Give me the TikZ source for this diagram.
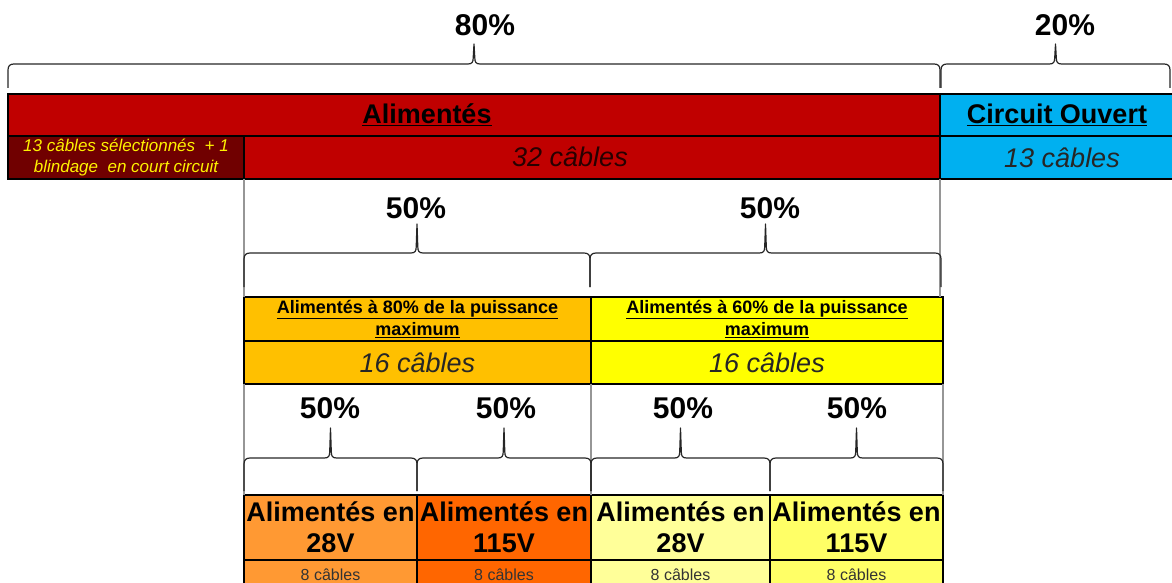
\documentclass[tikz,border=0pt]{standalone}
\usepackage{fontspec}
\setmainfont{Liberation Sans}
\usetikzlibrary{positioning}
\definecolor{alimred}{RGB}{192,0,0}
\definecolor{selred}{RGB}{112,0,0}
\definecolor{opencol}{RGB}{0,176,240}
\definecolor{p80col}{RGB}{255,192,0}
\definecolor{p60col}{RGB}{255,255,0}
\definecolor{v28orange}{RGB}{255,153,51}
\definecolor{v115orange}{RGB}{255,102,0}
\definecolor{v28yellow}{RGB}{255,255,153}
\definecolor{v115yellow}{RGB}{255,255,102}
\definecolor{guidecol}{RGB}{150,150,150}
\definecolor{txtdark}{RGB}{40,0,0}

\begin{document}
\begin{tikzpicture}[
  x=1pt, y=-1pt,
  %% table cell — black frame, text centred
  cell/.style={
    draw=black, line width=1.2pt,
    anchor=north west, inner sep=0pt, outer sep=0pt,
    align=center
  },
  %% bold underlined titles
  hd/.style={font=\fontsize{27}{30}\selectfont\bfseries},
  %% italic cable counts
  cnt/.style={font=\fontsize{27}{30}\selectfont\itshape, text=txtdark},
  %% small bold titles of the power rows
  sub/.style={font=\fontsize{18}{22.5}\selectfont\bfseries},
  %% bottom voltage cells
  volt/.style={font=\fontsize{27}{31}\selectfont\bfseries, minimum height=65},
  %% small cable counts at the bottom
  few/.style={font=\fontsize{16}{18}\selectfont, text=black!80, minimum height=30},
  %% percentage labels over the braces
  pct/.style={font=\fontsize{30}{32}\selectfont\bfseries, inner sep=0pt},
  %% curly braces
  brc/.style={draw=black!85, line width=1.2pt, line join=round},
  %% grey cell borders seen between the rows
  guide/.style={draw=guidecol, line width=1.4pt},
]

\useasboundingbox (0,0) rectangle (1172,583);

%%── First row: powered / open circuit ────────────────────────────────────────
\node[cell, fill=alimred, minimum width=932, minimum height=42] (alim)
  at (8,94) {};
\node[hd] (alimlbl) at (427,115) {\underline{Alimentés}};
\node[cell, hd, fill=opencol, minimum width=234, minimum height=42,
      right=0pt of alim] (circ)
  {\underline{Circuit Ouvert}};

\node[cell, fill=selred, minimum width=236, minimum height=43,
      font=\fontsize{17}{21}\selectfont\itshape, text=yellow] (sel)
  at (alim.south west)
  {13 câbles sélectionnés\ \ + 1\\blindage\ \ en court circuit};
\node[cell, fill=alimred, minimum width=696, minimum height=43,
      right=0pt of sel] (c32) {};
\node[cnt] (c32lbl) at (570,157) {32 câbles};
\node[cell, cnt, text=black!85, fill=opencol, minimum width=234,
      minimum height=43, right=0pt of c32] (c13)
  {\hspace*{10pt}13 câbles};

%%── Second row: power level ──────────────────────────────────────────────────
\node[cell, sub, fill=p80col, minimum width=347, minimum height=44] (p80)
  at (244,297)
  {\underline{Alimentés à 80\% de la puissance}\\\underline{maximum}};
\node[cell, cnt, text=black!85, fill=p80col, minimum width=347,
      minimum height=43, below=0pt of p80] (n80)
  {16 câbles};

\node[cell, sub, fill=p60col, minimum width=352, minimum height=44,
      right=0pt of p80] (p60)
  {\underline{Alimentés à 60\% de la puissance}\\\underline{maximum}};
\node[cell, cnt, text=black!85, fill=p60col, minimum width=352,
      minimum height=43, below=0pt of p60] (n60)
  {16 câbles};

%%── Third row: supply voltage ────────────────────────────────────────────────
\node[cell, volt, fill=v28orange, minimum width=173] (v28a)
  at (244,495) {Alimentés en\\28V};
\node[cell, volt, fill=v115orange, minimum width=174, right=0pt of v28a] (v115a)
  {Alimentés en\\115V};
\node[cell, volt, fill=v28yellow, minimum width=179, right=0pt of v115a] (v28b)
  {Alimentés en\\28V};
\node[cell, volt, fill=v115yellow, minimum width=173, right=0pt of v28b] (v115b)
  {Alimentés en\\115V};

\node[cell, few, fill=v28orange, minimum width=173, below=0pt of v28a] (k28a)
  {8 câbles};
\node[cell, few, fill=v115orange, minimum width=174, below=0pt of v115a] (k115a)
  {8 câbles};
\node[cell, few, fill=v28yellow, minimum width=179, below=0pt of v28b] (k28b)
  {8 câbles};
\node[cell, few, fill=v115yellow, minimum width=173, below=0pt of v115b] (k115b)
  {8 câbles};

%%── Grey borders between the rows ────────────────────────────────────────────
\draw[guide] (sel.south east) -- (p80.north west);
\draw[guide] (c32.south east) -- (c32.south east |- p60.north);
\foreach \s/\t in {n80.south west/v28a.north west,
                   n80.south east/v115a.north east,
                   n60.south east/v115b.north east}
  \draw[guide] (\s) -- (\t);

%%── Braces with their shares ─────────────────────────────────────────────────
\foreach \xa/\xb/\yh/\dn/\up/\xl/\yl/\pc [count=\i] in
  {8/940/64/24/20/485/25/80, 941/1170/64/24/20/1065/25/20,
   244/590/253/34/29/416/208/50, 590/941/253/34/29/770/208/50,
   244/417/458/33/30/330/408/50, 417/591/458/33/30/506/408/50,
   591/770/458/33/30/683/408/50, 770/943/458/33/30/857/408/50}
{
  \pgfmathsetmacro{\xm}{(\xa+\xb)/2}
  \draw[brc] (\xa,\yh+\dn) -- (\xa,\yh+6)
    .. controls (\xa,\yh+2) and (\xa+2,\yh) .. (\xa+6,\yh)
    -- (\xm-6,\yh)
    .. controls (\xm-2,\yh) and (\xm-0.8,\yh-2) .. (\xm-0.8,\yh-6)
    -- (\xm,\yh-\up) -- (\xm+0.8,\yh-6)
    .. controls (\xm+0.8,\yh-2) and (\xm+2,\yh) .. (\xm+6,\yh)
    -- (\xb-6,\yh)
    .. controls (\xb-2,\yh) and (\xb,\yh+2) .. (\xb,\yh+6)
    -- (\xb,\yh+\dn);
  \node[pct] (share\i) at (\xl,\yl) {\pc\%};
}

\end{tikzpicture}
\end{document}
